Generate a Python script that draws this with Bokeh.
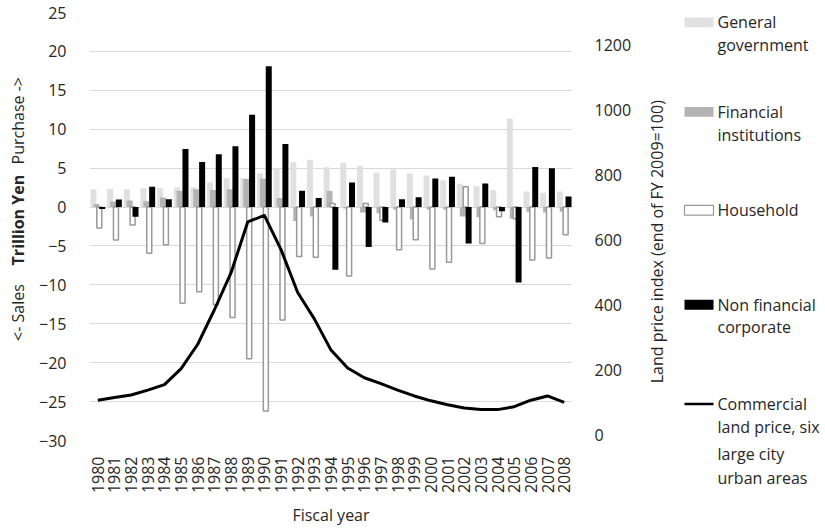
from math import pi
from bokeh.plotting import figure
from bokeh.layouts import row
from bokeh.models import (FactorRange, Range1d, LinearAxis, FixedTicker, ColumnDataSource, Title)
from bokeh.core.properties import value
from bokeh.transform import dodge
from bokeh.embed import file_html
from bokeh.resources import INLINE

# ---------------- data ----------------
years = [str(y) for y in range(1980, 2009)]
general_government = [2.27, 2.36, 2.3, 2.4, 2.4, 2.5, 2.5, 3.15, 3.7, 3.7, 4.35, 5.0, 5.75, 6.07,
                      5.1, 5.7, 5.3, 4.4, 4.85, 4.3, 4.05, 3.45, 3.0, 2.7, 2.2, 11.35, 2.0, 1.85, 2.0]
financial_institutions = [0.38, 0.72, 0.85, 0.76, 1.22, 2.1, 2.3, 2.2, 2.3, 3.6, 3.65, 1.15, -1.8, -1.2,
                          2.06, -0.2, -0.7, -0.8, -0.3, -1.6, -0.3, -0.3, -1.2, -1.3, -0.4, -1.5, -0.6, -0.7, -0.6]
household = [-2.7, -4.25, -2.3, -5.95, -4.85, -12.35, -10.9, -12.55, -14.2, -19.5, -26.2, -14.5, -6.35, -6.45,
             0.45, -8.85, 0.45, -1.7, -5.5, -4.2, -7.95, -7.1, 2.6, -4.7, -1.25, -1.5, -6.8, -6.55, -3.55]
non_financial_corporate = [-0.25, 0.97, -1.26, 2.6, 1.0, 7.45, 5.8, 6.8, 7.8, 11.85, 18.1, 8.1, 2.1, 1.15,
                           -8.05, 3.15, -5.15, -2.0, 1.0, 1.26, 3.67, 3.88, -4.7, 3.03, -0.55, -9.7, 5.15, 5.0, 1.35]
land_price = [108, 116, 124, 139, 156, 205, 280, 386, 500, 656, 676, 571, 439, 358, 262, 207, 177, 159,
              139, 121, 106, 94, 84, 79, 79, 88, 108, 121, 101]

left_ticks = [-30, -25, -20, -15, -10, -5, 0, 5, 10, 15, 20, 25]
right_ticks = [0, 200, 400, 600, 800, 1000, 1200]

legend_labels = [["General", "government"], ["Financial", "institutions"], ["Household"],
                 ["Non financial", "corporate"],
                 ["Commercial", "land price, six", "large city", "urban areas"]]
left_title_parts = ["Purchase ->", "Trillion Yen", "<- Sales"]
right_title = "Land price index (end of FY 2009=100)"
x_title = "Fiscal year"

# ---------------- styles / layout ----------------
FONT = "Open Sans"
TXT = "#262626"
FS = "16px"
W, H = 825, 529
WL = 36                    # left title panel width
FL, FT = 79, 12            # frame left / top (page px)
FW, FH = 493, 435          # frame size (px)
FB = FT + FH               # frame bottom (page px)
XR = 636                   # x where the right panel (axis title + legend) starts
LINE_H = 23                # legend text line pitch
C_GG, C_FI, C_HH_LINE, C_NFC = "#e0e0e0", "#b3b3b3", "#999999", "black"

src = ColumnDataSource(dict(year=years, gg=general_government, fi=financial_institutions,
                            hh=household, nfc=non_financial_corporate, lp=land_price))


def side_panel(x0, x1):
    f = figure(width=x1 - x0, height=H, x_range=Range1d(x0, x1), y_range=Range1d(FB, FT),
               min_border_left=0, min_border_right=0, min_border_top=FT,
               min_border_bottom=H - FB, output_backend="svg", toolbar_location=None,
               x_axis_location=None, y_axis_location=None, background_fill_color="white")
    f.grid.visible = False
    f.outline_line_color = None
    return f


# ---------------- left title panel ----------------
pl = side_panel(0, WL)
for t, yc, st in zip(left_title_parts, [122, 223, 317], ["normal", "bold", "normal"]):
    pl.text(x=[17.5], y=[yc], text=[t], angle=pi / 2, text_font=value(FONT), text_font_size=FS,
            text_color=TXT, text_font_style=st, text_align="center", text_baseline="middle")

# ---------------- main chart ----------------
p = figure(x_range=FactorRange(*years), y_range=Range1d(-30, 25),
           width=XR - WL, height=H,
           min_border_left=FL - WL, min_border_right=XR - FL - FW, min_border_top=FT,
           min_border_bottom=H - FB,
           output_backend="svg", toolbar_location=None, background_fill_color="white")
p.extra_y_ranges = {"right": Range1d(-16, 1300)}
p.outline_line_color = None
p.xgrid.grid_line_color = None
p.ygrid.ticker = FixedTicker(ticks=left_ticks)
p.ygrid.grid_line_color = "#d9d9d9"
p.ygrid.grid_line_width = 1

p.yaxis.ticker = FixedTicker(ticks=left_ticks)
for ax in (p.xaxis[0], p.yaxis[0]):
    ax.axis_line_color = None
    ax.major_tick_line_color = None
    ax.minor_tick_line_color = None
    ax.major_label_text_font = FONT
    ax.major_label_text_font_size = FS
    ax.major_label_text_color = TXT
p.yaxis.major_label_standoff = 17
p.xaxis.major_label_orientation = pi / 2
p.xaxis.major_label_standoff = 10
p.xaxis.axis_label = x_title
p.xaxis.axis_label_text_font = FONT
p.xaxis.axis_label_text_font_size = FS
p.xaxis.axis_label_text_font_style = "normal"
p.xaxis.axis_label_text_color = TXT
p.xaxis.axis_label_standoff = 8

rax = LinearAxis(y_range_name="right", ticker=FixedTicker(ticks=right_ticks))
rax.axis_line_color = None
rax.major_tick_line_color = None
rax.minor_tick_line_color = None
rax.major_label_text_font = FONT
rax.major_label_text_font_size = FS
rax.major_label_text_color = TXT
rax.major_label_standoff = 16
p.add_layout(rax, "right")

d = 0.175
w = 0.36
p.vbar(x=dodge("year", -1.5 * d, range=p.x_range), top="gg", width=w, source=src,
       fill_color=C_GG, line_color=None)
p.vbar(x=dodge("year", -0.5 * d, range=p.x_range), top="fi", width=w, source=src,
       fill_color=C_FI, line_color=None)
p.vbar(x=dodge("year", 0.5 * d, range=p.x_range), top="hh", width=w - 0.06, source=src,
       fill_color="white", line_color=C_HH_LINE, line_width=1.5)
p.vbar(x=dodge("year", 1.5 * d, range=p.x_range), top="nfc", width=w, source=src,
       fill_color=C_NFC, line_color=None)
p.line(x="year", y="lp", source=src, y_range_name="right", line_color="black",
       line_width=3, line_join="round")

# ---------------- right panel: axis title + legend ----------------
p2 = side_panel(XR, W)
p2.text(x=[656], y=[245], text=[right_title], angle=pi / 2, text_font=value(FONT),
        text_font_size=FS, text_color=TXT, text_align="center", text_baseline="middle")

sw_x0, sw_x1, sw_h = 684, 713, 10
sw_y = [22, 113, 213, 309, 410]
p2.quad(left=[sw_x0] * 4, right=[sw_x1] * 4, top=[y - sw_h / 2 for y in sw_y[:4]],
        bottom=[y + sw_h / 2 for y in sw_y[:4]],
        fill_color=[C_GG, C_FI, "white", C_NFC], line_color=[None, None, C_HH_LINE, None],
        line_width=1.2)
p2.segment(x0=[sw_x0], x1=[sw_x1], y0=[sw_y[4]], y1=[sw_y[4]], line_color="black", line_width=2.5)

tx, ty, tt, overflow = [], [], [], []
for lines, y0 in zip(legend_labels, sw_y):
    for k, t in enumerate(lines):
        y = y0 + LINE_H * k
        if y <= FB - 10:
            tx.append(717)
            ty.append(y)
            tt.append(t)
        else:
            overflow.append(t)
p2.text(x=tx, y=ty, text=tt, text_font=value(FONT), text_font_size=FS, text_color=TXT,
        text_baseline="middle", text_align="left")
# lines that fall below the frame go into the panel beneath it
for t in overflow:
    p2.add_layout(Title(text=t, align="left", offset=717 - XR, standoff=0, text_font=FONT,
                        text_font_size=FS, text_font_style="normal", text_color=TXT), "below")

open("out.html", "w").write(file_html(row(pl, p, p2), INLINE))
